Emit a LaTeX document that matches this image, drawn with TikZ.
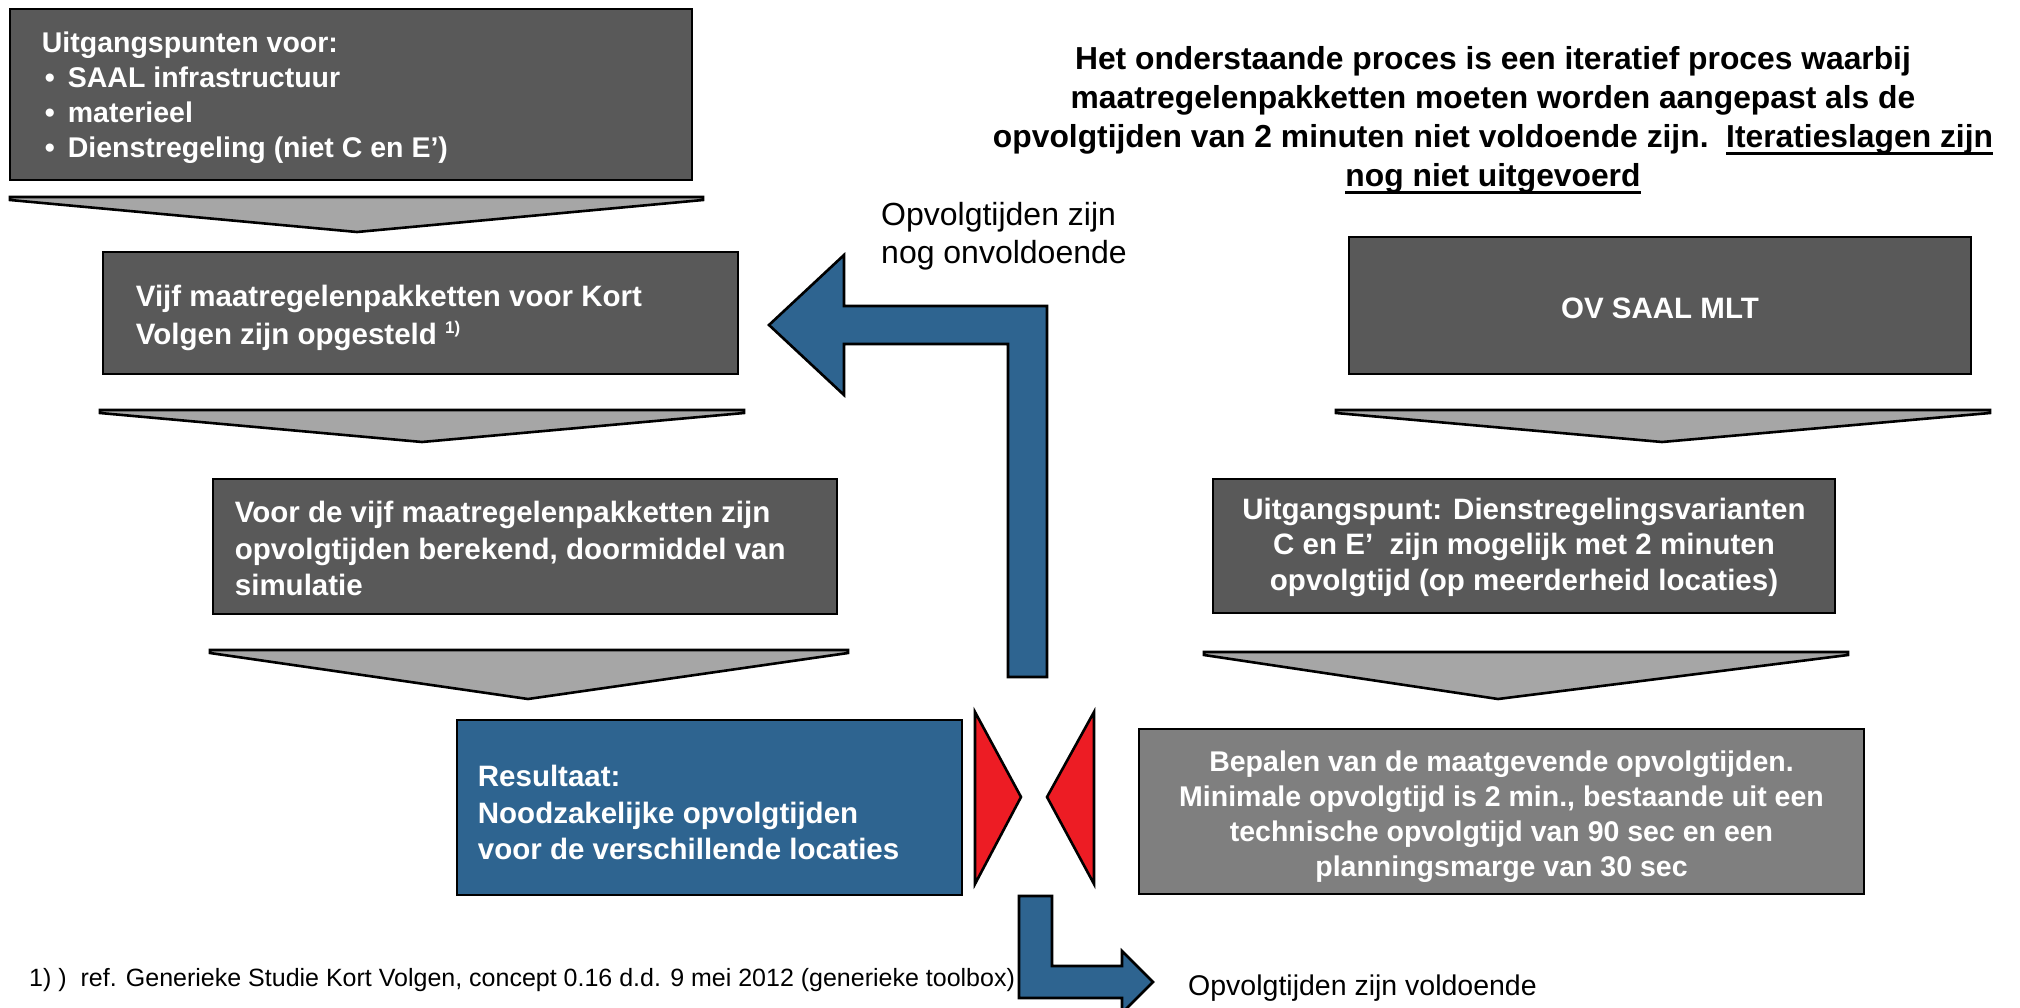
\documentclass[tikz,border=0pt]{standalone}
\usepackage{fontspec}
\setmainfont{Liberation Sans}
\definecolor{dgray}{RGB}{89,89,89}
\definecolor{mgray}{RGB}{127,127,127}
\definecolor{lgray}{RGB}{166,166,166}
\definecolor{nsblue}{RGB}{46,100,144}
\definecolor{sigred}{RGB}{237,28,36}
\newcommand\myul[1]{\setbox0\hbox{#1}\rlap{\rule[-8pt]{\wd0}{3.4pt}}\box0}
\begin{document}
\begin{tikzpicture}[x=1pt,y=-1pt,line join=miter,
  box/.style={draw=black,line width=2.6pt,fill=dgray,text=white,inner sep=0pt,align=center,
    font=\bfseries\fontsize{29.5}{36}\selectfont},
  btxt/.style={text=white,inner sep=0pt,align=left,anchor=west,
    font=\bfseries\fontsize{29.5}{36.5}\selectfont},
  ctxt/.style={text=white,inner sep=0pt,align=center,
    font=\bfseries\fontsize{29.5}{35.5}\selectfont},
  chev/.style={draw=black,line width=2.6pt,fill=lgray},
  barrow/.style={draw=black,line width=2.6pt,fill=nsblue},
  redtri/.style={draw=black,line width=2.6pt,fill=sigred},
  lbl/.style={inner sep=0pt,align=left}]
\useasboundingbox (0,0) rectangle (2020,1008);

% left column
\node[box,minimum width=682pt,minimum height=171pt] (b1) at (351,94.5) {};
\node[btxt,font=\bfseries\fontsize{28.5}{35}\selectfont] (t1) at ([xshift=33pt,yshift=-3pt]b1.west) {Uitgangspunten voor:\\
  \hspace*{3pt}\makebox[23pt][l]{•}SAAL infrastructuur\\
  \hspace*{3pt}\makebox[23pt][l]{•}materieel\\
  \hspace*{3pt}\makebox[23pt][l]{•}Dienstregeling (niet C en E’)};
\draw[chev] (10,197) -- (703,197) -- (703,200) -- (357,232) -- (10,200) -- cycle;

\node[box,minimum width=635pt,minimum height=122pt] (b2) at (420.5,313) {};
\node[btxt,font=\bfseries\fontsize{29.5}{38}\selectfont] (t2) at ([xshift=34pt,yshift=-5pt]b2.west) {Vijf maatregelenpakketten voor Kort\\
  Volgen zijn opgesteld \raisebox{11pt}{\fontsize{17}{17}\selectfont 1)}};
\draw[chev] (100,410) -- (744,410) -- (744,413) -- (422,442) -- (100,413) -- cycle;

\node[box,minimum width=624pt,minimum height=135pt] (b3) at (525,546.5) {};
\node[btxt] (t3) at ([xshift=23pt,yshift=-2pt]b3.west) {Voor de vijf maatregelenpakketten zijn\\
  opvolgtijden berekend, doormiddel van\\ simulatie};
\draw[chev] (210,650) -- (848,650) -- (848,653) -- (528,699) -- (210,653) -- cycle;

\node[box,fill=nsblue,minimum width=505pt,minimum height=175pt] (b4) at (709.5,807.5) {};
\node[btxt] (t4) at ([xshift=22pt,yshift=-5pt]b4.west) {Resultaat:\\ Noodzakelijke opvolgtijden\\
  voor de verschillende locaties};

% right column
\node[box,minimum width=622pt,minimum height=137pt] (r1) at (1660,305.5) {};
\node[ctxt] (u1) at ([yshift=-3pt]r1.center) {OV SAAL MLT};
\draw[chev] (1336,410) -- (1990,410) -- (1990,413) -- (1662,442) -- (1336,413) -- cycle;
\node[box,minimum width=622pt,minimum height=134pt] (r2) at (1524,546) {};
\node[ctxt] (u2) at ([yshift=-1pt]r2.center) {Uitgangspunt: Dienstregelingsvarianten\\
  C en E’\ \ zijn mogelijk met 2 minuten\\ opvolgtijd (op meerderheid locaties)};
\draw[chev] (1204,652) -- (1848,652) -- (1848,655) -- (1498,699) -- (1204,655) -- cycle;
\node[box,fill=mgray,minimum width=725pt,minimum height=165pt] (r3) at (1501.5,811.5) {};
\node[ctxt,font=\bfseries\fontsize{28.5}{35}\selectfont] (u3) at ([yshift=-5pt]r3.center) {Bepalen van de maatgevende opvolgtijden.\\
  Minimale opvolgtijd is 2 min., bestaande uit een\\ technische opvolgtijd van 90 sec en een\\
  planningsmarge van 30 sec};

% red triangles
\draw[redtri] (975,712) -- (1021,797) -- (975,884) -- cycle;
\draw[redtri] (1094,712) -- (1047,797) -- (1094,884) -- cycle;

% blue bent arrows
\draw[barrow] (1008,677) -- (1047,677) -- (1047,306) -- (844,306) -- (844,255) -- (769,325)
  -- (844,395) -- (844,344) -- (1008,344) -- cycle;
\draw[barrow] (1019,896) -- (1052,896) -- (1052,966) -- (1122,966) -- (1122,951) -- (1153,982)
  -- (1122,1013) -- (1122,998) -- (1019,998) -- cycle;

% header
\node[inner sep=0pt,align=center,font=\bfseries\fontsize{31.8}{39}\selectfont] (hdr) at (1493,120)
  {Het onderstaande proces is een iteratief proces waarbij\\
   maatregelenpakketten moeten worden aangepast als de\\
   opvolgtijden van 2 minuten niet voldoende zijn.\ \ \myul{Iteratieslagen zijn}\\
   \myul{nog niet uitgevoerd}};

% labels
\node[lbl,anchor=west,font=\fontsize{32}{38}\selectfont] (lab1) at (881,236) {Opvolgtijden zijn\\nog onvoldoende};
\node[lbl,anchor=west,font=\fontsize{28.5}{34}\selectfont] (lab2) at (1188,988) {Opvolgtijden zijn voldoende};
\node[inner sep=0pt,anchor=west,font=\fontsize{25}{28}\selectfont] (fn) at (29,980)
  {1) )\ \ ref. Generieke Studie Kort Volgen, concept 0.16 d.d. 9 mei 2012 (generieke toolbox)};
\end{tikzpicture}
\end{document}
